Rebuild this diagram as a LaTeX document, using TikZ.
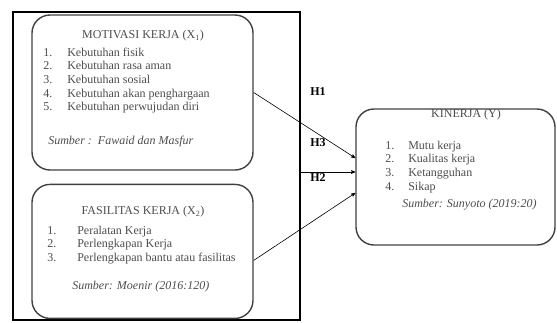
\documentclass[tikz,border=0pt]{standalone}
\usepackage{fontspec}
\setmainfont{Liberation Serif}
\usetikzlibrary{arrows,positioning}

\begin{document}
\begin{tikzpicture}[x=1pt,y=-1pt,>=stealth',semithick,
	frame/.style={draw,line width=2.4pt,minimum width=287pt,minimum height=308pt},
	box/.style={draw=black!75,line width=1.4pt,rounded corners=18pt,minimum width=221pt},
	txt/.style={text=black!70,inner sep=0pt,font=\fontsize{12}{13.7}\selectfont},
	src/.style={txt,font=\itshape\fontsize{12}{13.7}\selectfont,anchor=base west},
	lbl/.style={inner sep=0pt,font=\bfseries\fontsize{12}{14}\selectfont}]
\useasboundingbox (0,0) rectangle (557,322);

\node	[frame]						(frame)	at (156.5,166)	{};
\node	[box,minimum height=155pt]			(mot)	at (142.5,92.5)	{};
\node	[box,minimum height=134pt]			(fas)	[below=13pt of mot]	{};
\node	[box,minimum width=199pt,minimum height=136pt]	(kin)	at (455.5,177)	{};

\node	[txt]	(motT)	at (143,36)	{MOTIVASI KERJA (X\textsubscript{1})};
\node	[txt,anchor=base west]	(motL)	at (43,56)	{\begin{tabular}[t]{@{}p{24pt}@{}l@{}}
	1. & Kebutuhan fisik\\
	2. & Kebutuhan rasa aman\\
	3. & Kebutuhan sosial\\
	4. & Kebutuhan akan penghargaan\\
	5. & Kebutuhan perwujudan diri
	\end{tabular}};
\node	[src]	(motS)	at (48,144)	{Sumber :\ \ Fawaid dan Masfur};

\node	[txt]	(fasT)	at (143,212)	{FASILITAS KERJA (X\textsubscript{2})};
\node	[txt,anchor=base west]	(fasL)	at (47,234)	{\begin{tabular}[t]{@{}p{30pt}@{}l@{}}
	1. & Peralatan Kerja\\
	2. & Perlengkapan Kerja\\
	3. & Perlengkapan bantu atau fasilitas
	\end{tabular}};
\node	[src]	(fasS)	at (72,289)	{Sumber: Moenir (2016:120)};

\node	[txt]	(kinT)	at (466,115)	{KINERJA (Y)};
\node	[txt,anchor=base west]	(kinL)	at (385,149)	{\begin{tabular}[t]{@{}p{23pt}@{}l@{}}
	1. & Mutu kerja\\
	2. & Kualitas kerja\\
	3. & Ketangguhan\\
	4. & Sikap
	\end{tabular}};
\node	[src]	(kinS)	at (402,207)	{Sumber: Sunyoto (2019:20)};

\coordinate	(x)	at (300,172);
\node	[lbl]	(h1)	at (318,92)	{H1};
\node	[lbl]	(h3)	at (318,143)	{H3};
\node	[lbl]	(h2)	at (318,178)	{H2};

\draw	[->]	(mot.east)	--	([yshift=19pt]kin.west);
\draw	[->]	(x)	--	([yshift=5pt]kin.west);
\draw	[->]	([yshift=-9pt]fas.east)	--	([yshift=-16pt]kin.west);
\end{tikzpicture}
\end{document}
